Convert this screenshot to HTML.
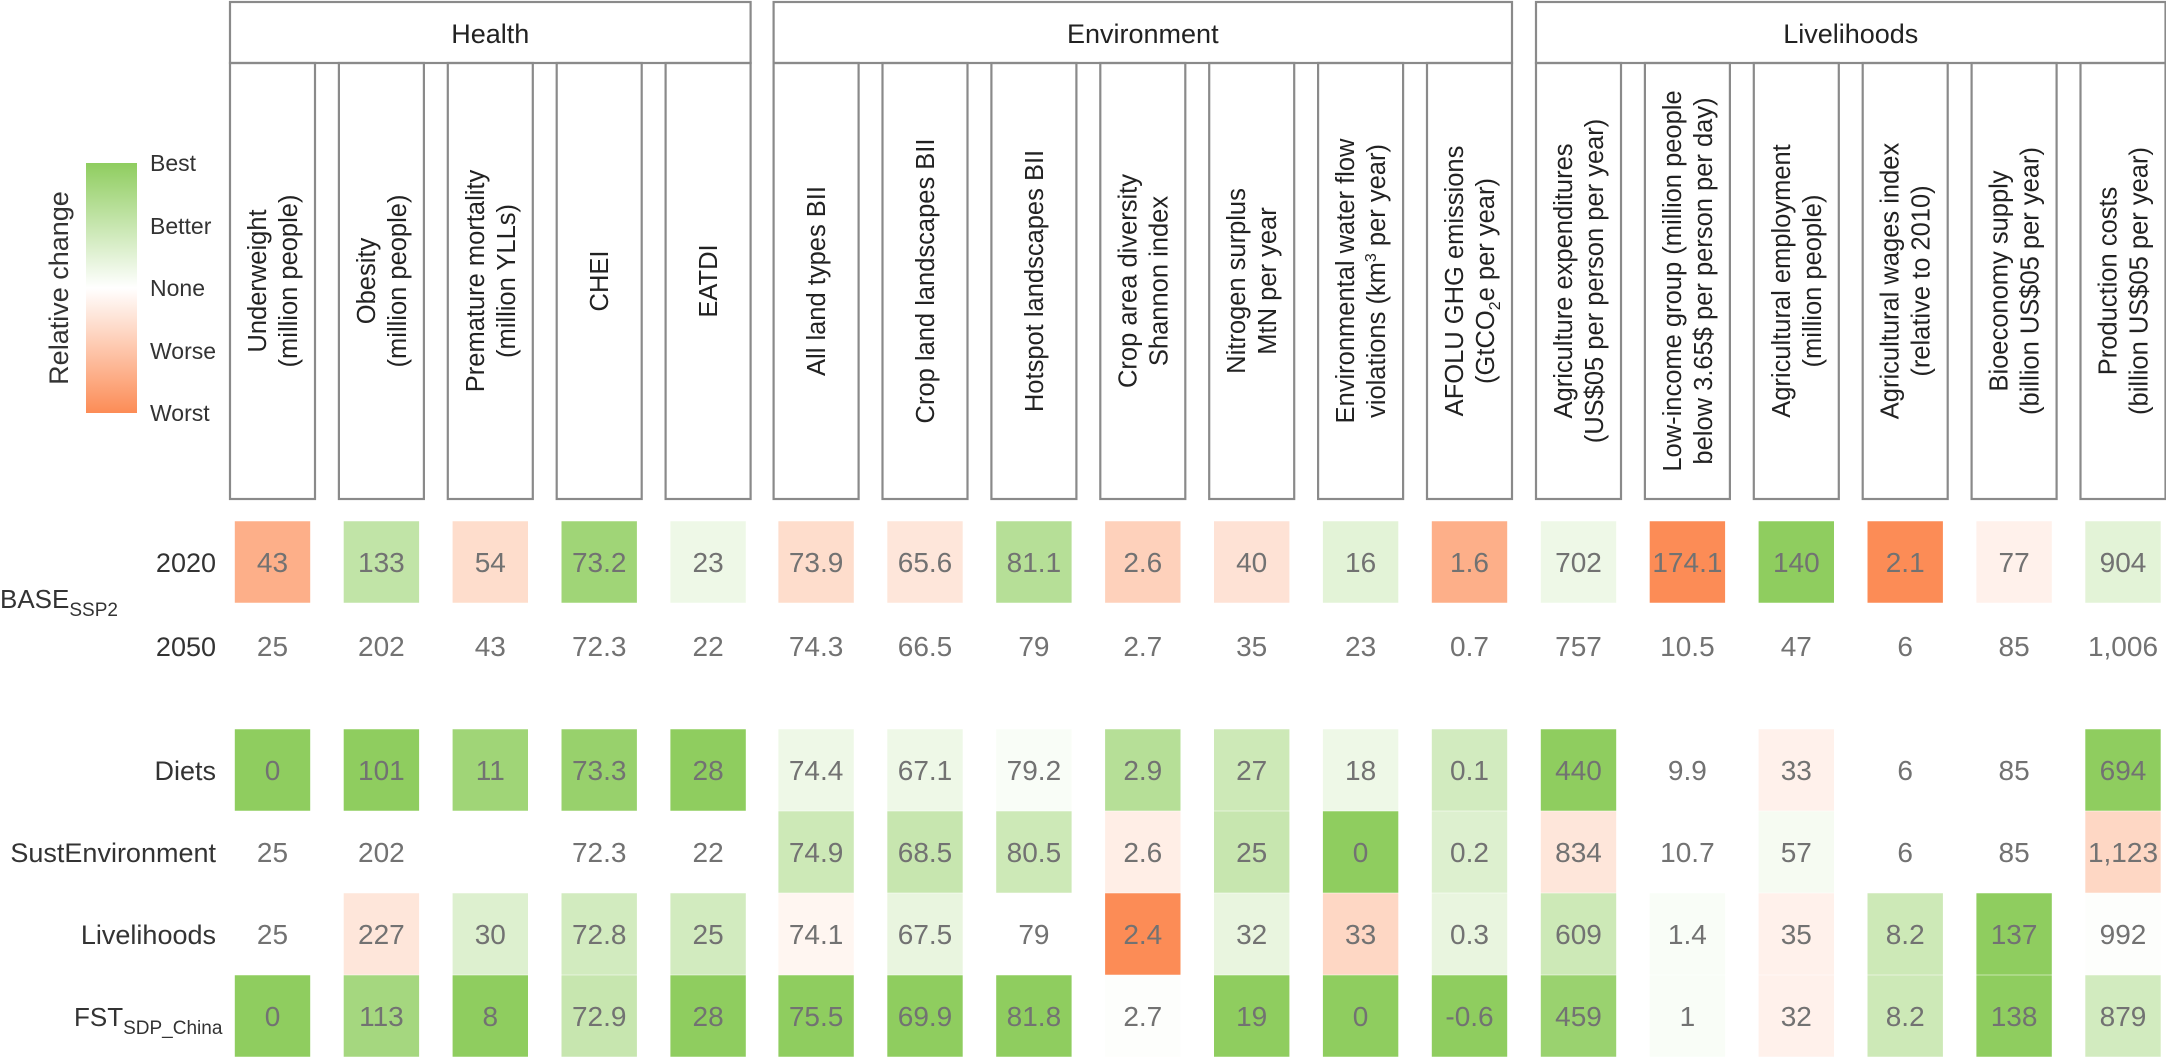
<!DOCTYPE html>
<html><head><meta charset="utf-8"><style>
html,body{margin:0;padding:0;background:#fff;}
svg{display:block;font-family:"Liberation Sans",sans-serif;}
</style></head><body>
<svg id="chart" width="2166" height="1061" viewBox="0 0 2166 1061">
<defs><linearGradient id="lg" x1="0" y1="0" x2="0" y2="1">
<stop offset="0" stop-color="#8fcd5f"/><stop offset="0.5" stop-color="#ffffff"/><stop offset="1" stop-color="#fc8c56"/></linearGradient></defs>
<g>
<rect x="86" y="163" width="51" height="250" fill="url(#lg)"/>
<text transform="translate(68,288) rotate(-90)" text-anchor="middle" font-size="27" fill="#333">Relative change</text>
<text x="150" y="171" font-size="23" fill="#333">Best</text>
<text x="150" y="234" font-size="23" fill="#333">Better</text>
<text x="150" y="296" font-size="23" fill="#333">None</text>
<text x="150" y="359" font-size="23" fill="#333">Worse</text>
<text x="150" y="421" font-size="23" fill="#333">Worst</text>
</g>
<g id="headers"></g>
<g id="cells"></g>
<g id="rowlabels">
<text x="0" y="608" font-size="26" fill="#333">BASE<tspan font-size="19" dy="8">SSP2</tspan></text>
<text x="0" y="1026" font-size="26" fill="#333" text-anchor="start"><tspan x="74">FST</tspan><tspan font-size="19" dy="8">SDP_China</tspan></text>
</g>
</svg>
<script>
const groups = ["Health","Environment","Livelihoods"];
const groupLeft = [230, 773.6, 1536];
const groupCounts = [5, 7, 6];
const columns = [
 ["Underweight","(million people)"],["Obesity","(million people)"],["Premature mortality","(million YLLs)"],["CHEI"],["EATDI"],
 ["All land types BII"],["Crop land landscapes BII"],["Hotspot landscapes BII"],["Crop area diversity","Shannon index"],["Nitrogen surplus","MtN per year"],["Environmental water flow","violations (km^3 per year)"],["AFOLU GHG emissions","(GtCO_2e per year)"],
 ["Agriculture expenditures","(US$05 per person per year)"],["Low-income group (million people","below 3.65$ per person per day)"],["Agricultural employment","(million people)"],["Agricultural wages index","(relative to 2010)"],["Bioeconomy supply","(billion US$05 per year)"],["Production costs","(billion US$05 per year)"]
];
const rowLabels = ["2020","2050","Diets","SustEnvironment","Livelihoods",""];
const rowCenters = [562, 646, 770, 852, 934, 1016];
const valuesBase2020 = ["43","133","54","73.2","23","73.9","65.6","81.1","2.6","40","16","1.6","702","174.1","140","2.1","77","904"];
const scoresBase2020 = [-0.7,0.55,-0.3,0.85,0.15,-0.3,-0.22,0.65,-0.4,-0.25,0.25,-0.7,0.15,-1,1,-1,-0.12,0.25];
const valuesBase2050 = ["25","202","43","72.3","22","74.3","66.5","79","2.7","35","23","0.7","757","10.5","47","6","85","1,006"];
const scoresBase2050 = [0,0,0,0,0,0,0,0,0,0,0,0,0,0,0,0,0,0];
const valuesDiets = ["0","101","11","73.3","28","74.4","67.1","79.2","2.9","27","18","0.1","440","9.9","33","6","85","694"];
const scoresDiets = [1,1,0.85,0.92,1,0.15,0.15,0.05,0.65,0.45,0.15,0.4,1,0,-0.12,0,0,1];
const valuesSust = ["25","202","","72.3","22","74.9","68.5","80.5","2.6","25","0","0.2","834","10.7","57","6","85","1,123"];
const scoresSust = [0,0,0,0,0,0.45,0.5,0.45,-0.15,0.5,1,0.3,-0.22,0,0.08,0,0,-0.35];
const valuesLiv = ["25","227","30","72.8","25","74.1","67.5","79","2.4","32","33","0.3","609","1.4","35","8.2","137","992"];
const scoresLiv = [0,-0.22,0.3,0.4,0.4,-0.08,0.2,0,-1,0.2,-0.35,0.2,0.45,0.05,-0.12,0.45,1,0.02];
const valuesFst = ["0","113","8","72.9","28","75.5","69.9","81.8","2.7","19","0","-0.6","459","1","32","8.2","138","879"];
const scoresFst = [1,0.8,1,0.5,1,1,1,1,0.02,1,1,1,0.9,0.05,-0.12,0.45,1,0.4];
const rowValues = [valuesBase2020,valuesBase2050,valuesDiets,valuesSust,valuesLiv,valuesFst];
const rowScores = [scoresBase2020,scoresBase2050,scoresDiets,scoresSust,scoresLiv,scoresFst];

const NS="http://www.w3.org/2000/svg";
const PITCH=108.9, BOXW=85, CELLW=75.4, CELLH=81.5;
function mk(tag, attrs, parent){const e=document.createElementNS(NS,tag);for(const k in attrs)e.setAttribute(k,attrs[k]);parent.appendChild(e);return e;}
function colX(i){let g=0,idx=i;while(idx>=groupCounts[g]){idx-=groupCounts[g];g++;}return groupLeft[g]+idx*PITCH;}
function lerp(a,b,t){return Math.round(a+(b-a)*t);}
function color(s){const w=[255,255,255],g=[143,205,95],o=[252,140,86];const c=s>=0?g:o;const t=Math.min(1,Math.abs(s));return `rgb(${lerp(w[0],c[0],t)},${lerp(w[1],c[1],t)},${lerp(w[2],c[2],t)})`;}
function fillRich(t, s){
  const m = s.match(/^(.*?)([\^_])(\d)(.*)$/);
  if(!m){t.textContent=s;return;}
  const a=document.createElementNS(NS,'tspan');a.textContent=m[1];t.appendChild(a);
  const b=document.createElementNS(NS,'tspan');b.textContent=m[3];b.setAttribute('font-size','16');b.setAttribute('dy', m[2]==='^'?'-9':'6');t.appendChild(b);
  const c=document.createElementNS(NS,'tspan');c.textContent=m[4];c.setAttribute('dy', m[2]==='^'?'9':'-6');t.appendChild(c);
}
const hdr=document.getElementById('headers');
groups.forEach((name,gi)=>{
  const left=groupLeft[gi], right=left+(groupCounts[gi]-1)*PITCH+BOXW;
  const r=mk('rect',{x:left,y:2,width:right-left,height:61,fill:'none',stroke:'#8a8a8a','stroke-width':2.2},hdr);
  
  
  const t=mk('text',{x:(left+right)/2,y:43,'text-anchor':'middle','font-size':27,fill:'#222'},hdr);
  t.textContent=name;
  
  
});
columns.forEach((lines,i)=>{
  const x=colX(i);
  const r=mk('rect',{x:x,y:63,width:BOXW,height:436,fill:'none',stroke:'#8a8a8a','stroke-width':2.2},hdr);
  
  
  const cx=x+BOXW/2, cy=281;
  const n=lines.length, lh=31;
  lines.forEach((ln,k)=>{
    const off=(k-(n-1)/2)*lh;
    const t=mk('text',{transform:`translate(${cx+off+9},${cy}) rotate(-90)`,'text-anchor':'middle','font-size':25.5,fill:'#222'},hdr);
    fillRich(t, ln);
    
    
  });
});
const cells=document.getElementById('cells');
const rl=document.getElementById('rowlabels');
rowLabels.forEach((lab,ri)=>{
  const cy=rowCenters[ri];
  if(lab){
    const t=mk('text',{x:216,y:cy+10,'text-anchor':'end','font-size':27,fill:'#333'},rl);
    t.textContent=lab;
    
    
  }
  rowValues[ri].forEach((v,i)=>{
    const x=colX(i)+(BOXW-CELLW)/2;
    const s=rowScores[ri][i];
    if(s!==0){
      const r=mk('rect',{x:x,y:cy-CELLH/2,width:CELLW,height:CELLH,fill:color(s)},cells);
      
      
    }
    const t=mk('text',{x:x+CELLW/2,y:cy+10,'text-anchor':'middle','font-size':28,fill:'#727272'},cells);
    t.textContent=v;
    
    
  });
});
</script>
</body></html>
